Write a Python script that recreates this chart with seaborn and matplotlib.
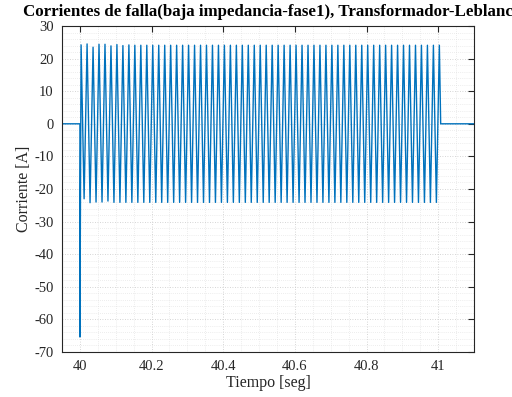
import numpy as np
import pandas as pd
import matplotlib
matplotlib.use("Agg")
import matplotlib.pyplot as plt
import seaborn as sns
from matplotlib.ticker import MultipleLocator

# ---- data ----
pre_t = [39.95, 40.0, 40.0]
pre_v = [0.0, 0.0, -65.4]

peak_t = [40.0033, 40.0200, 40.0367, 40.0533, 40.0700, 40.0867,
          40.1033, 40.1200, 40.1367, 40.1533, 40.1700, 40.1867,
          40.2033, 40.2200, 40.2367, 40.2533, 40.2700, 40.2867,
          40.3033, 40.3200, 40.3367, 40.3533, 40.3700, 40.3867,
          40.4033, 40.4200, 40.4367, 40.4533, 40.4700, 40.4867,
          40.5033, 40.5200, 40.5367, 40.5533, 40.5700, 40.5867,
          40.6033, 40.6200, 40.6367, 40.6533, 40.6700, 40.6867,
          40.7033, 40.7200, 40.7367, 40.7533, 40.7700, 40.7867,
          40.8033, 40.8200, 40.8367, 40.8533, 40.8700, 40.8867,
          40.9033, 40.9200, 40.9367, 40.9533, 40.9700, 40.9867,
          41.0033]
peak_v = [24.2, 24.5, 23.5, 24.4, 24.4, 23.9, 24.3, 24.0, 24.2, 24.1,
          24.1, 24.1, 24.1, 24.1, 24.1, 24.1, 24.1, 24.1, 24.1, 24.1,
          24.1, 24.1, 24.1, 24.1, 24.1, 24.1, 24.1, 24.1, 24.1, 24.1,
          24.1, 24.1, 24.1, 24.1, 24.1, 24.1, 24.1, 24.1, 24.1, 24.1,
          24.1, 24.1, 24.1, 24.1, 24.1, 24.1, 24.1, 24.1, 24.1, 24.1,
          24.1, 24.1, 24.1, 24.1, 24.1, 24.1, 24.1, 24.1, 24.1, 24.1,
          24.1]

trough_t = [40.0117, 40.0283, 40.0450, 40.0617, 40.0783, 40.0950,
            40.1117, 40.1283, 40.1450, 40.1617, 40.1783, 40.1950,
            40.2117, 40.2283, 40.2450, 40.2617, 40.2783, 40.2950,
            40.3117, 40.3283, 40.3450, 40.3617, 40.3783, 40.3950,
            40.4117, 40.4283, 40.4450, 40.4617, 40.4783, 40.4950,
            40.5117, 40.5283, 40.5450, 40.5617, 40.5783, 40.5950,
            40.6117, 40.6283, 40.6450, 40.6617, 40.6783, 40.6950,
            40.7117, 40.7283, 40.7450, 40.7617, 40.7783, 40.7950,
            40.8117, 40.8283, 40.8450, 40.8617, 40.8783, 40.8950,
            40.9117, 40.9283, 40.9450, 40.9617, 40.9783, 40.9950]
trough_v = [-23.0, -24.2, -24.0, -24.0, -23.7, -24.1, -24.1, -24.1, -24.1, -24.1,
            -24.1, -24.1, -24.1, -24.1, -24.1, -24.1, -24.1, -24.1, -24.1, -24.1,
            -24.1, -24.1, -24.1, -24.1, -24.1, -24.1, -24.1, -24.1, -24.1, -24.1,
            -24.1, -24.1, -24.1, -24.1, -24.1, -24.1, -24.1, -24.1, -24.1, -24.1,
            -24.1, -24.1, -24.1, -24.1, -24.1, -24.1, -24.1, -24.1, -24.1, -24.1,
            -24.1, -24.1, -24.1, -24.1, -24.1, -24.1, -24.1, -24.1, -24.1, -24.1]

post_t = [41.007, 41.1]
post_v = [0.0, 0.0]

xtick_vals = [40, 40.2, 40.4, 40.6, 40.8, 41]
xtick_labels = ["40", "40.2", "40.4", "40.6", "40.8", "41"]
ytick_vals = [-70, -60, -50, -40, -30, -20, -10, 0, 10, 20, 30]

# ---- build series ----
osc = sorted(zip(peak_t + trough_t, peak_v + trough_v))
t_all = pre_t + [p[0] for p in osc] + post_t
v_all = pre_v + [p[1] for p in osc] + post_v
df = pd.DataFrame({"t": t_all, "i": v_all})

sns.set_style("white")
plt.rcParams["font.family"] = ["Liberation Serif", "DejaVu Serif"]
plt.rcParams["axes.unicode_minus"] = False

fig = plt.figure(figsize=(5.12, 3.97), dpi=100)
ax = fig.add_axes([62/512, 45/397, 412/512, 326/397])

sns.lineplot(data=df, x="t", y="i", sort=False, estimator=None,
             color="#0072BD", linewidth=1.0, ax=ax)

ax.set_xlim(39.95, 41.1)
ax.set_ylim(-70, 30)
ax.set_xticks(xtick_vals)
ax.set_xticklabels(xtick_labels)
ax.set_yticks(ytick_vals)
ax.xaxis.set_minor_locator(MultipleLocator(0.05))
ax.yaxis.set_minor_locator(MultipleLocator(2))

ax.grid(True, which="major", linestyle=(0, (1, 2)), color="#c8c8c8", linewidth=0.6)
ax.grid(True, which="minor", linestyle=(0, (1, 2)), color="#dcdcdc", linewidth=0.5)
ax.set_axisbelow(True)

ax.tick_params(axis="both", which="major", direction="in", length=4, width=0.8,
               top=True, right=True, labelsize=10.5, labelcolor="#262626",
               color="#262626", pad=6)
ax.tick_params(axis="both", which="minor", length=0, top=True, right=True)
for s in ax.spines.values():
    s.set_color("#262626")
    s.set_linewidth(0.8)

ax.set_xlabel("Tiempo [seg]", fontsize=11.5, color="#262626", labelpad=1)
ax.set_ylabel("Corriente [A]", fontsize=11.5, color="#262626", labelpad=2)
ax.set_title("Corrientes de falla(baja impedancia-fase1), Transformador-Leblanc",
             fontsize=12.2, fontweight="bold", color="black", pad=7)

fig.savefig("out.png", dpi=100)
